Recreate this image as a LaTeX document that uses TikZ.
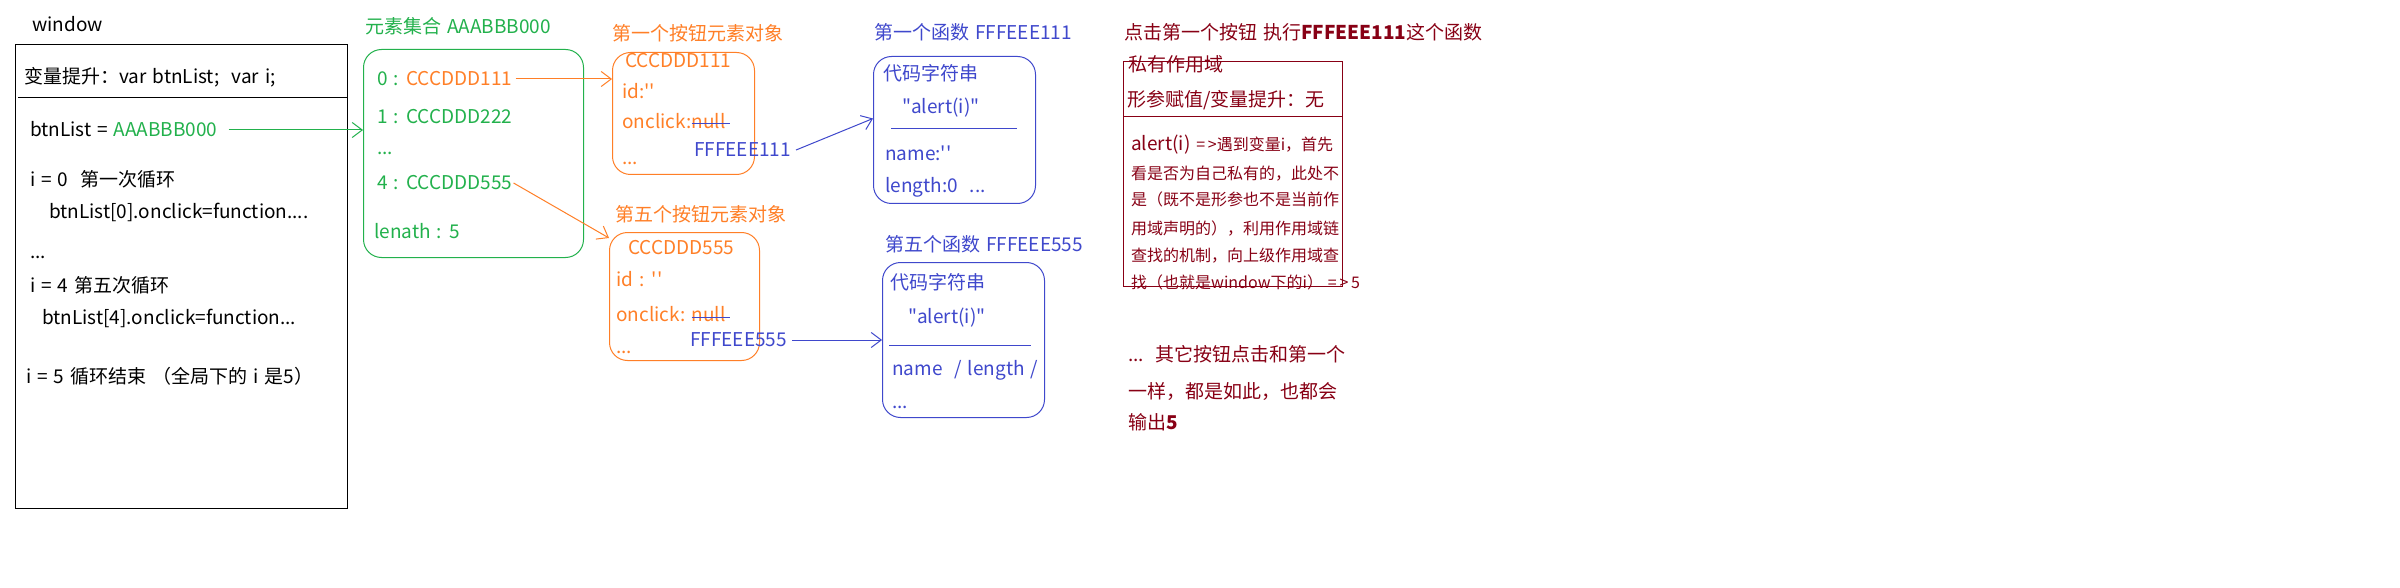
\documentclass[tikz,border=0pt]{standalone}
\usepackage{fontspec}
\usetikzlibrary{arrows.meta}
\newfontfamily\mainf{Noto Sans CJK SC}[WordSpace=1.4]
\newcommand\mainfs{\mainf\fontsize{19}{23}\selectfont}
\newcommand\smallfs{\mainf\fontsize{16}{19}\selectfont}
\definecolor{gr}{RGB}{34,177,76}
\definecolor{or}{RGB}{255,127,39}
\definecolor{bl}{RGB}{63,72,204}
\definecolor{dr}{RGB}{136,0,21}
\tikzset{
  txt/.style={inner sep=0pt, anchor=west, text height=17pt, text depth=4pt, font=\mainfs},
  sm/.style={inner sep=0pt, anchor=west, text height=15pt, text depth=3pt, font=\smallfs},
  box/.style={draw, line width=1pt, inner sep=0pt, anchor=north west},
  rbox/.style={box, rounded corners=18pt},
  arr/.style={line width=1pt, -{Straight Barb[length=10pt,width=15pt]}},
  thin/.style={line width=1pt},
}
\begin{document}
\begin{tikzpicture}[x=1pt,y=-1pt]
\useasboundingbox[fill=white] (0,0) rectangle (2400,588);

% window
\node[txt] (wlabel) at (32,25) {window};
\node[box, minimum width=332pt, minimum height=464pt] (win) at (15,44) {};
\node[txt] (hoist) at (24,77) {变量提升：var btnList;\ \ var i;};
\coordinate (wdivl) at (18,98);
\draw[thin] (wdivl) -- (wdivl -| win.east);
\node[txt] (btnl) at (30,130) {btnList = \textcolor{gr}{AAABBB000}};
\node[txt] (i0) at (30,180) {i = 0\ \ 第一次循环};
\node[txt] (bl0) at (49,212) {btnList[0].onclick=function....};
\node[txt] (wdots) at (30,252) {...};
\node[txt] (i4) at (30,286) {i = 4 第五次循环};
\node[txt] (bl4) at (42,318) {btnList[4].onclick=function...};
\node[txt] (i5) at (26,377) {i = 5 循环结束 （全局下的 i 是5）};

% green collection
\node[txt, gr] (gtitle) at (365,27) {元素集合 AAABBB000};
\node[rbox, gr, minimum width=220pt, minimum height=208pt] (gbox) at (363,49) {};
\node[txt, gr] (g0) at (377,79) {0 : \textcolor{or}{CCCDDD111}};
\node[txt, gr] (g1) at (377,117) {1 : CCCDDD222};
\node[txt, gr] (gdots) at (377,148) {...};
\node[txt, gr] (g4) at (377,183) {4 : CCCDDD555};
\node[txt, gr] (glen) at (374,232) {lenath : 5};
\draw[arr, gr] ([xshift=11pt]btnl.east) -- (gbox.west |- btnl.east);

% orange object 1
\node[txt, or] (o1title) at (612,34) {第一个按钮元素对象};
\node[rbox, or, minimum width=142pt, minimum height=122pt] (ob1) at (612,52) {};
\node[txt, or] (o1name) at (625,61) {CCCDDD111};
\node[txt, or] (o1id) at (622,92) {id:''};
\node[txt, or] (o1on) at (622,122) {onclick:};
\node[txt, or] (o1null) at (o1on.east) {null};
\draw[thin, bl] ([yshift=-2pt]o1null.west) -- ([xshift=4pt,yshift=-2pt]o1null.east);
\node[txt, or] (o1dots) at (622,158) {...};
\node[txt, bl] (f111) at (694,150) {FFFEEE111};
\draw[arr, or] ([xshift=3pt]g0.east) -- (ob1.west |- g0.east);

% orange object 5
\node[txt, or] (o2title) at (615,215) {第五个按钮元素对象};
\node[rbox, or, minimum width=150pt, minimum height=128pt] (ob2) at (609,232) {};
\node[txt, or] (o2name) at (628,248) {CCCDDD555};
\node[txt, or] (o2id) at (616,280) {id : ''};
\node[txt, or] (o2on) at (616,315) {onclick:};
\node[txt, or] (o2null) at ([xshift=6pt]o2on.east) {null};
\draw[thin, bl] ([yshift=-2pt]o2null.west) -- ([xshift=4pt,yshift=-2pt]o2null.east);
\node[txt, or] (o2dots) at (616,347) {...};
\node[txt, bl] (f555) at (690,340) {FFFEEE555};
\draw[arr, or] ([xshift=1pt]g4.east) -- ([yshift=-6pt]ob2.north west);

% blue function 1
\node[txt, bl] (b1title) at (874,33) {第一个函数 FFFEEE111};
\node[rbox, bl, minimum width=162pt, minimum height=147pt] (bb1) at (873,56) {};
\node[txt, bl] (b1code) at (883,74) {代码字符串};
\node[txt, bl] (b1alert) at (902,107) {"alert(i)"};
\coordinate (b1l) at (891,129);
\draw[thin, bl] (b1l) -- ++(126,0);
\node[txt, bl] (b1name) at (885,154) {name:''};
\node[txt, bl] (b1len) at (885,186) {length:0\ \ ...};
\draw[arr, bl] ([xshift=5pt]f111.east) -- ([yshift=11.5pt]bb1.west);

% blue function 5
\node[txt, bl] (b2title) at (885,245) {第五个函数 FFFEEE555};
\node[rbox, bl, minimum width=162pt, minimum height=155pt] (bb2) at (882,262) {};
\node[txt, bl] (b2code) at (890,283) {代码字符串};
\node[txt, bl] (b2alert) at (908,317) {"alert(i)"};
\coordinate (b2l) at (889,345);
\draw[thin, bl] (b2l) -- ++(142,0);
\node[txt, bl] (b2name) at (892,369) {name\ \ / length /};
\node[txt, bl] (b2dots) at (892,402) {...};
\draw[arr, bl] ([xshift=5pt]f555.east) -- (bb2.west |- f555.east);

% dark red explanation
\node[txt, dr] (rtitle) at (1124,33) {点击第一个按钮 执行\textbf{FFFEEE111}这个函数};
\node[box, dr, minimum width=219pt, minimum height=225pt] (rb) at (1123,61) {};
\node[txt, dr] (rpriv) at (1128,65) {私有作用域};
\node[txt, dr] (rparam) at (1127,100) {形参赋值/变量提升：无};
\coordinate (rdiv) at (1123,117);
\draw[thin, dr] (rdiv) -- (rdiv -| rb.east);
\node[txt, dr] (ra1) at (1131,144) {alert(i) {\smallfs =\,>遇到变量i，首先}};
\node[sm, dr] (ra2) at (1131,173) {看是否为自己私有的，此处不};
\node[sm, dr] (ra3) at (1131,200) {是（既不是形参也不是当前作};
\node[sm, dr] (ra4) at (1131,228) {用域声明的），利用作用域链};
\node[sm, dr] (ra5) at (1131,255) {查找的机制，向上级作用域查};
\node[sm, dr] (ra6) at (1131,282) {找（也就是window下的i） =\,>\,5};

\node[txt, dr] (rc1) at (1128,355) {...\ \ 其它按钮点击和第一个};
\node[txt, dr] (rc2) at (1128,392) {一样，都是如此，也都会};
\node[txt, dr] (rc3) at (1128,423) {输出\textbf{5}};
\end{tikzpicture}
\end{document}
